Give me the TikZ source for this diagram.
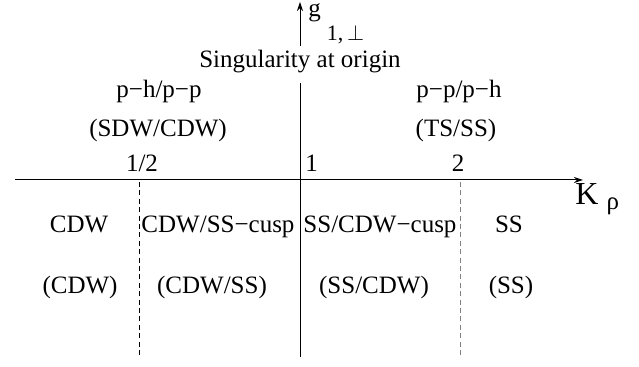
\documentclass[tikz,border=0pt]{standalone}
\usepackage{fontspec}
\setmainfont{Liberation Serif}
\usetikzlibrary{arrows.meta}

\begin{document}
\begin{tikzpicture}[
  x=0.5pt, y=-0.5pt,
  every node/.style={font=\fontsize{12.5}{15}\selectfont},
  lbl/.style={inner sep=0pt, anchor=base},
  axis/.style={-{Stealth[length=4.5pt,width=3pt]}, line width=0.5pt},
  border/.style={dash pattern=on 2.5pt off 1.7pt, line width=0.5pt}
]
\useasboundingbox (0,0) rectangle (639,367);

% title over the vertical axis
\node[lbl, inner xsep=0pt, inner ysep=2pt, text depth=5.5pt] (sing) at (300,68) {Singularity at origin};

% axes
\coordinate (xs) at (15,180);
\coordinate (xe) at (583,180);
\coordinate (ys) at (300,357);
\coordinate (ye) at (300,2);
\draw[axis] (xs) -- (xe);
\draw (ys) -- (ys |- sing.south);
\draw[axis] (ys |- sing.north) -- (ye);

% phase borders
\coordinate (half-top) at (139,182);
\coordinate (half-bot) at (139,357);
\coordinate (two-top) at (460,182);
\coordinate (two-bot) at (460,357);
\draw[border] (half-top) -- (half-bot);
\draw[border, gray] (two-top) -- (two-bot);

% axis labels
\node[lbl, anchor=base west] (gaxis) at (308,17)
  {g\hspace{3pt}\raisebox{-12pt}{\fontsize{11}{13}\selectfont 1,\,$\perp$}};
\node[lbl, anchor=base west] (kaxis) at (575,205)
  {\fontsize{16}{18}\selectfont K\hspace{4pt}\raisebox{-2.5pt}{\fontsize{12.5}{15}\selectfont ρ}};

% ticks
\node[lbl] (t-half) at (142,172) {1/2};
\node[lbl, anchor=base west] (t-one) at (305,172) {1};
\node[lbl] (t-two) at (458,172) {2};

% upper half plane
\node[lbl] (ph-pp) at (159,98) {p−h/p−p};
\node[lbl] (sdw-cdw) at (158,137) {(SDW/CDW)};
\node[lbl] (pp-ph) at (459,98) {p−p/p−h};
\node[lbl] (ts-ss) at (456,137) {(TS/SS)};

% lower half plane
\node[lbl] (cdw) at (79,233) {CDW};
\node[lbl] (cdw-ss-c) at (218,233) {CDW/SS−cusp};
\node[lbl] (ss-cdw-c) at (380,233) {SS/CDW−cusp};
\node[lbl] (ss) at (509,233) {SS};
\node[lbl] (cdw-p) at (80,294) {(CDW)};
\node[lbl] (cdw-ss-p) at (212,294) {(CDW/SS)};
\node[lbl] (ss-cdw-p) at (374,294) {(SS/CDW)};
\node[lbl] (ss-p) at (511,294) {(SS)};

\end{tikzpicture}
\end{document}
